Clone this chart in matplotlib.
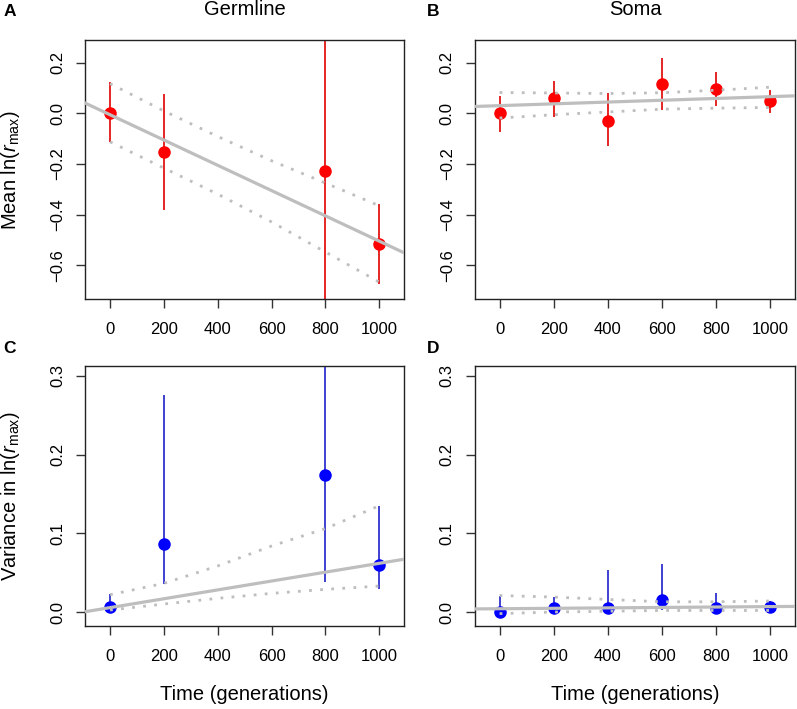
import matplotlib
matplotlib.use("Agg")
import matplotlib.pyplot as plt

plt.rcParams["font.family"] = ["Liberation Sans", "DejaVu Sans"]
plt.rcParams["mathtext.fontset"] = "custom"
plt.rcParams["mathtext.rm"] = "Liberation Sans"
plt.rcParams["mathtext.it"] = "Liberation Sans:italic"

# generations sampled
gen_germ = [0, 200, 800, 1000]
gen_soma = [0, 200, 400, 600, 800, 1000]
ci_x = [0, 200, 400, 600, 800, 1000]

# A: germline mean ln(rmax)
mean_germ = [0.0, -0.153, -0.228, -0.517]
mean_germ_lo = [-0.111, -0.381, -0.90, -0.674]
mean_germ_hi = [0.125, 0.079, 0.40, -0.357]
mean_germ_fit = [-0.005, -0.0005]          # intercept, slope
mean_germ_ci_hi = [0.118, 0.010, -0.091, -0.187, -0.275, -0.365]
mean_germ_ci_lo = [-0.112, -0.216, -0.319, -0.429, -0.548, -0.667]

# B: soma mean ln(rmax)
mean_soma = [0.0, 0.063, -0.028, 0.115, 0.0965, 0.0475]
mean_soma_lo = [-0.074, -0.012, -0.130, 0.012, 0.028, 0.001]
mean_soma_hi = [0.071, 0.127, 0.081, 0.219, 0.165, 0.091]
mean_soma_fit = [0.031, 0.0000355]
mean_soma_ci_hi = [0.083, 0.081, 0.079, 0.082, 0.092, 0.104]
mean_soma_ci_lo = [-0.018, -0.005, 0.006, 0.017, 0.021, 0.024]

# C: germline variance in ln(rmax)
var_germ = [0.0064, 0.0864, 0.174, 0.0597]
var_germ_lo = [0.0, 0.035, 0.038, 0.0296]
var_germ_hi = [0.0225, 0.276, 0.34, 0.135]
var_germ_fit = [0.0056, 0.0000563]
var_germ_ci_hi = [0.022, 0.0364, 0.0585, 0.0839, 0.106, 0.135]
var_germ_ci_lo = [0.0025, 0.0102, 0.0174, 0.0237, 0.0288, 0.033]

# D: soma variance in ln(rmax)
var_soma = [0.0004, 0.0047, 0.0047, 0.0153, 0.0047, 0.0064]
var_soma_lo = [0.0, 0.001, 0.0, 0.003, 0.0, 0.003]
var_soma_hi = [0.0203, 0.0195, 0.0534, 0.0606, 0.0237, 0.0136]
var_soma_fit = [0.0042, 0.0000027]
var_soma_ci_hi = [0.021, 0.019, 0.016, 0.013, 0.013, 0.014]
var_soma_ci_lo = [-0.002, 0.0, 0.001, 0.002, 0.002, 0.002]

XLIM = (-92, 1092)
GREY = "#bebebe"


def panel(ax, x, y, lo, hi, fit, ci_hi, ci_lo, color, bar_color, ylim, yticks):
    ax.vlines(x, lo, hi, color=bar_color, lw=1.2, zorder=2)
    ax.plot(x, y, "o", color=color, ms=8.0, mec=color, zorder=3)
    ax.plot(XLIM, [fit[0] + fit[1] * v for v in XLIM], color=GREY, lw=2.3, zorder=4)
    for band in (ci_hi, ci_lo):
        ax.plot(ci_x, band, color=GREY, lw=2.0, linestyle=(0, (1, 3.0)),
                dash_capstyle="butt", zorder=4)
    ax.set_xlim(XLIM)
    ax.set_ylim(ylim)
    ax.set_xticks(ci_x)
    ax.set_yticks(yticks)
    ax.set_yticklabels([f"{t:.1f}".replace("-", "\u2212") for t in yticks],
                       rotation=90, va="center")
    ax.tick_params(length=6.3, width=1.0, labelsize=12, color="#333333")
    ax.tick_params(axis="x", pad=10)
    ax.tick_params(axis="y", pad=8)
    for s in ax.spines.values():
        s.set_linewidth(1.0)
        s.set_color("#222222")


fig = plt.figure(figsize=(7.97, 7.09), dpi=100)
ax_a = fig.add_axes([0.107, 0.578, 0.400, 0.365])
ax_b = fig.add_axes([0.5956, 0.578, 0.4019, 0.365])
ax_c = fig.add_axes([0.107, 0.117, 0.400, 0.367])
ax_d = fig.add_axes([0.5956, 0.117, 0.4019, 0.367])

mean_lim = (-0.7345, 0.289)
var_lim = (-0.0178, 0.3127)
mean_ticks = [-0.6, -0.4, -0.2, 0.0, 0.2]
var_ticks = [0.0, 0.1, 0.2, 0.3]

panel(ax_a, gen_germ, mean_germ, mean_germ_lo, mean_germ_hi, mean_germ_fit,
      mean_germ_ci_hi, mean_germ_ci_lo, "#ff0000", "#e00000", mean_lim, mean_ticks)
panel(ax_b, gen_soma, mean_soma, mean_soma_lo, mean_soma_hi, mean_soma_fit,
      mean_soma_ci_hi, mean_soma_ci_lo, "#ff0000", "#e00000", mean_lim, mean_ticks)
panel(ax_c, gen_germ, var_germ, var_germ_lo, var_germ_hi, var_germ_fit,
      var_germ_ci_hi, var_germ_ci_lo, "#0000ff", "#2020cc", var_lim, var_ticks)
panel(ax_d, gen_soma, var_soma, var_soma_lo, var_soma_hi, var_soma_fit,
      var_soma_ci_hi, var_soma_ci_lo, "#0000ff", "#2020cc", var_lim, var_ticks)

ax_a.set_ylabel("Mean ln($r_{\\mathrm{max}}$)", fontsize=14.5)
ax_a.yaxis.set_label_coords(-0.2, 0.5)
ax_c.set_ylabel("Variance in ln($r_{\\mathrm{max}}$)", fontsize=14.5)
ax_c.yaxis.set_label_coords(-0.2, 0.5)
for ax in (ax_c, ax_d):
    ax.set_xlabel("Time (generations)", fontsize=14.5)
    ax.xaxis.set_label_coords(0.5, -0.225)

fig.text(0.307, 0.986, "Germline", ha="center", va="center", fontsize=14.5)
fig.text(0.797, 0.986, "Soma", ha="center", va="center", fontsize=14.5)
for label, x, y in [("A", 0.004, 0.984), ("B", 0.536, 0.984),
                    ("C", 0.004, 0.508), ("D", 0.536, 0.508)]:
    fig.text(x, y, label, ha="left", va="center", fontsize=12.5, weight="bold")

fig.savefig("out.png", dpi=100)
